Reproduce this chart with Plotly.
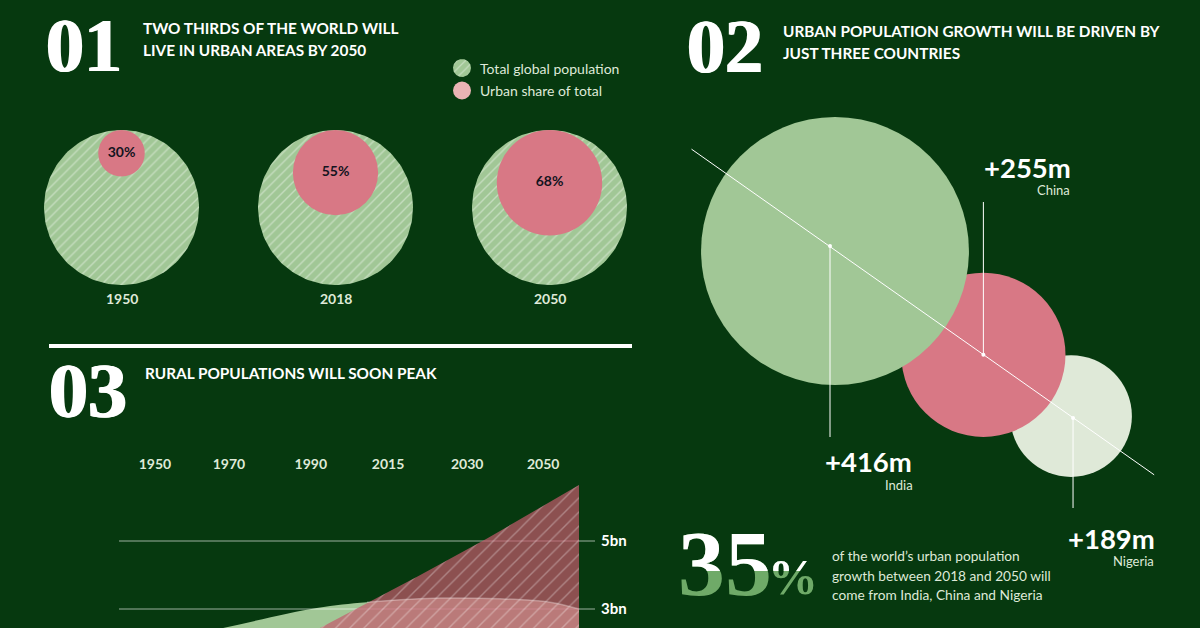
"""
Urban population infographic: three small panels on one dark green page.
Page furniture sits on a pixel-sized canvas axis, panel 03 has its own axes.
"""

import numpy as np
import plotly.graph_objects as go

# Panel 01
SHARE_YEARS = ["1950", "2018", "2050"]
URBAN_SHARE = [30, 55, 68]

# Panel 02
COUNTRIES = ["India", "China", "Nigeria"]
URBAN_GROWTH = [416, 255, 189]
HEADLINE_SHARE = 35

# Panel 03
URBAN_YEARS = [1950, 1970, 1990, 2015, 2030, 2050]
URBAN_BN = [0.75, 1.35, 2.18, 3.96, 5.07, 6.65]
RURAL_YEARS = [1950, 1972.6, 1993, 2003.9, 2019.8, 2032.8, 2043.7, 2050]
RURAL_BN = [1.77, 2.44, 3.03, 3.20, 3.32, 3.30, 3.20, 3.00]
AXIS_YEARS = ["1950", "1970", "1990", "2015", "2030", "2050"]
AXIS_BN = [3, 5]
AXIS_BN_TEXT = ["<b>3bn</b>", "<b>5bn</b>"]

W, H = 1200, 628
BG = "#06390F"
GREEN = "#A1C796"
PINK = "#D87885"
PALE = "#DFE9D8"
WHITE = "#FFFFFF"
SANS = "Lato"
SERIF = "Liberation Serif"
HEAVY = "1px 0 0 #FFFFFF, -1px 0 0 #FFFFFF"

# Panel 01 layout
TOTAL_D = 155
CIRCLE_X = [121.5, 335.5, 549.5]
CIRCLE_Y = 207.5

# Panel 02 layout: bubbles sit along a diagonal, radius is linear in the value
PX_PER_M = 0.322
INDIA_C = np.array([835.0, 251.0])
DIAG = np.array([153.0, 107.0]) / np.hypot(153, 107)
OVERLAPS = [35, 36]
DOT_OFFSET = [-5, 0, 2]

# Year labels in this panel sit left of the year they name
YEAR_LABEL_AT = [1957.8, 1973.9, 1991.7, 2008.5, 2025.7, 2042.2]
X_END = 1950 + 476 / 4.6


def ring(cx, cy, r):
    t = np.linspace(0, 2 * np.pi, 160)
    return cx + r * np.cos(t), cy + r * np.sin(t)


def hatched_circle(cx, cy, r, size=7):
    xs, ys = ring(cx, cy, r)
    return go.Scatter(
        x=xs, y=ys, mode="lines", fill="toself",
        line=dict(width=0, color=GREEN),
        fillcolor=GREEN,
        fillpattern=dict(shape="/", fgcolor="rgba(255,255,255,0.75)",
                         bgcolor=GREEN, size=size, solidity=0.2),
        hoverinfo="skip",
    )


def label(text, x, y, size=14, color=WHITE, anchor="left", font=SANS, bold=False, shadow=None):
    font_opts = dict(family=font, size=size, color=color)
    if shadow:
        font_opts["shadow"] = shadow
    return dict(
        text=f"<b>{text}</b>" if bold else text,
        x=x, y=y, xref="x", yref="y", showarrow=False,
        xanchor=anchor, yanchor="middle", align=anchor,
        borderpad=0, borderwidth=0,
        font=font_opts,
    )


fig = go.Figure()
notes = []

# --- 01 ---
for i, yr in enumerate(SHARE_YEARS):
    fig.add_trace(hatched_circle(CIRCLE_X[i], CIRCLE_Y, TOTAL_D / 2))
    notes.append(label(yr, CIRCLE_X[i], 298, size=14, anchor="center", color=PALE, bold=True))

urban_d = [TOTAL_D * s / 100 for s in URBAN_SHARE]
urban_y = [CIRCLE_Y - TOTAL_D / 2 + d / 2 for d in urban_d]
fig.add_trace(go.Scatter(
    x=CIRCLE_X, y=urban_y, mode="markers+text",
    marker=dict(size=urban_d, sizemode="diameter", color=PINK, opacity=1, line=dict(width=0)),
    text=[f"<b>{s}%</b>" for s in URBAN_SHARE],
    textposition="middle center",
    textfont=dict(family=SANS, size=14, color="#14141E"),
    hoverinfo="skip",
))

fig.add_trace(hatched_circle(462, 68, 9, size=6))
fig.add_trace(go.Scatter(
    x=[462], y=[90.5], mode="markers",
    marker=dict(size=18, color="#EAB4B4", opacity=1, line=dict(width=0)), hoverinfo="skip",
))
notes.append(label("Total global population", 480, 68, size=14, color=PALE))
notes.append(label("Urban share of total", 480, 90.5, size=14, color=PALE))

# --- 02 ---
radii = [v * PX_PER_M for v in URBAN_GROWTH]
centres = [INDIA_C]
for i, gap in enumerate(OVERLAPS):
    centres.append(centres[i] + DIAG * (radii[i] + radii[i + 1] - gap))
cx = [c[0] for c in centres]
cy = [c[1] for c in centres]

fig.add_trace(go.Scatter(
    x=cx[::-1], y=cy[::-1], mode="markers",
    marker=dict(size=[2 * r for r in radii[::-1]], sizemode="diameter",
                color=[PALE, PINK, GREEN], opacity=1, line=dict(width=0)),
    hoverinfo="skip",
))
dot_x = [cx[i] + DOT_OFFSET[i] for i in range(3)]
dot_y = [cy[i] + DOT_OFFSET[i] for i in range(3)]
fig.add_trace(go.Scatter(
    x=[dot_x[0] - DIAG[0] * 169, dot_x[2] + DIAG[0] * 99],
    y=[dot_y[0] - DIAG[1] * 169, dot_y[2] + DIAG[1] * 99],
    mode="lines", line=dict(color=WHITE, width=1), hoverinfo="skip",
))
LEADER_ENDS = [437, 202, 508]
for i in range(3):
    fig.add_trace(go.Scatter(
        x=[dot_x[i], dot_x[i]], y=[dot_y[i], LEADER_ENDS[i]], mode="lines",
        line=dict(color=WHITE, width=1), hoverinfo="skip",
    ))
fig.add_trace(go.Scatter(
    x=dot_x, y=dot_y, mode="markers",
    marker=dict(size=4, color=WHITE, line=dict(width=0)), hoverinfo="skip",
))

VALUE_POS = [(912, 461), (1071, 167), (1155, 538)]
NAME_POS = [(913, 485), (1070, 190), (1154, 561)]
for i, name in enumerate(COUNTRIES):
    notes.append(label(f"+{URBAN_GROWTH[i]}m", *VALUE_POS[i], size=27.5, anchor="right", bold=True))
    notes.append(label(name, *NAME_POS[i], size=13, anchor="right", color=PALE))

# 35% is two-tone, the white copy on top is clipped by its own short axes
SPLIT_Y = 571
fig.add_trace(go.Scatter(
    x=[678], y=[571], mode="text", text=[f"<b>{HEADLINE_SHARE}</b>"], textposition="middle right",
    textfont=dict(family=SERIF, size=94, color="#6FAA68"), hoverinfo="skip",
))
fig.add_trace(go.Scatter(
    x=[768], y=[581], mode="text", text=["<b>%</b>"], textposition="middle right",
    textfont=dict(family=SERIF, size=50, color="#6FAA68"), hoverinfo="skip",
))
fig.add_trace(go.Scatter(
    x=[678], y=[571], mode="text", text=[f"<b>{HEADLINE_SHARE}</b>"], textposition="middle right",
    textfont=dict(family=SERIF, size=94, color=WHITE), hoverinfo="skip",
    xaxis="x3", yaxis="y3",
))
fig.add_trace(go.Scatter(
    x=[768], y=[581], mode="text", text=["<b>%</b>"], textposition="middle right",
    textfont=dict(family=SERIF, size=50, color=WHITE), hoverinfo="skip",
    xaxis="x3", yaxis="y3",
))
notes.append(label("of the world’s urban population", 832, 555, size=13.7, color=PALE))
notes.append(label("growth between 2018 and 2050 will", 832, 575, size=13.7, color=PALE))
notes.append(label("come from India, China and Nigeria", 832, 594, size=13.7, color=PALE))

# --- 03 ---
fig.add_trace(go.Scatter(
    x=RURAL_YEARS, y=RURAL_BN, mode="lines", fill="tozeroy",
    line=dict(color=GREEN, width=0, shape="spline"),
    fillcolor=GREEN, hoverinfo="skip", xaxis="x2", yaxis="y2",
))
# gridlines go between the two areas so the urban fill tones them down
for bn in AXIS_BN:
    fig.add_trace(go.Scatter(
        x=[1950, X_END], y=[bn, bn], mode="lines",
        line=dict(color="rgba(255,255,255,0.6)", width=1),
        hoverinfo="skip", xaxis="x2", yaxis="y2",
    ))
fig.add_trace(go.Scatter(
    x=URBAN_YEARS, y=URBAN_BN, mode="lines", fill="tozeroy",
    line=dict(width=0, color=PINK),
    fillcolor="rgba(197,90,108,0.7)",
    fillpattern=dict(shape="/", fgcolor="rgba(255,255,255,0.6)",
                     bgcolor="rgba(197,90,108,0.7)", size=10, solidity=0.14),
    hoverinfo="skip", xaxis="x2", yaxis="y2",
))
# the rural edge only shows as a light line where it crosses the urban area
fig.add_trace(go.Scatter(
    x=RURAL_YEARS[3:], y=RURAL_BN[3:], mode="lines",
    line=dict(color="rgba(255,255,255,0.3)", width=1.5, shape="spline"),
    hoverinfo="skip", xaxis="x2", yaxis="y2",
))

# --- headings ---
notes.append(label("<b>01</b>", 46, 45, size=76, font=SERIF, shadow=HEAVY))
notes.append(label("<b>02</b>", 687, 46, size=76, font=SERIF, shadow=HEAVY))
notes.append(label("<b>03</b>", 49, 390, size=78, font=SERIF, shadow=HEAVY))
notes.append(label("TWO THIRDS OF THE WORLD WILL", 143, 28, size=15.35, bold=True))
notes.append(label("LIVE IN URBAN AREAS BY 2050", 143, 50, size=15.35, bold=True))
notes.append(label("URBAN POPULATION GROWTH WILL BE DRIVEN BY", 783, 31, size=15.35, bold=True))
notes.append(label("JUST THREE COUNTRIES", 783, 53, size=15.35, bold=True))
notes.append(label("RURAL POPULATIONS WILL SOON PEAK", 145, 373, size=15.35, bold=True))

hidden = dict(visible=False, fixedrange=True)
fig.update_layout(
    width=W, height=H,
    margin=dict(l=0, r=0, t=0, b=0),
    paper_bgcolor=BG, plot_bgcolor="rgba(0,0,0,0)",
    showlegend=False,
    annotations=notes,
    shapes=[dict(type="line", xref="x", yref="y", x0=49, x1=632, y0=346, y1=346,
                 line=dict(color=WHITE, width=4))],
    xaxis=dict(range=[0, W], domain=[0, 1], **hidden),
    yaxis=dict(range=[H, 0], domain=[0, 1], **hidden),
    # axes are 4.6 px per year and 34 px per billion
    xaxis2=dict(
        domain=[119 / W, 595 / W], range=[1950, X_END], anchor="y2", side="top",
        tickvals=YEAR_LABEL_AT, ticktext=[f"<b>{y}</b>" for y in AXIS_YEARS],
        ticks="", showgrid=False, zeroline=False, showline=False, ticklabelstandoff=4,
        tickfont=dict(family=SANS, size=14, color=PALE), fixedrange=True,
    ),
    yaxis2=dict(
        domain=[0, 151 / H], range=[3 - 19 / 34, 3 + 132 / 34], anchor="x2", side="right",
        tickvals=AXIS_BN, ticktext=AXIS_BN_TEXT, ticks="", zeroline=False, showline=False,
        showgrid=False, ticklabelstandoff=5, tickfont=dict(family=SANS, size=15, color=WHITE),
        fixedrange=True,
    ),
    xaxis3=dict(range=[0, W], domain=[0, 1], anchor="y3", **hidden),
    yaxis3=dict(range=[SPLIT_Y, 0], domain=[(H - SPLIT_Y) / H, 1], anchor="x3", **hidden),
)

fig.write_html(
    "out.html",
    config=dict(displayModeBar=False),
    post_script="document.body.style.margin='0';",
)
